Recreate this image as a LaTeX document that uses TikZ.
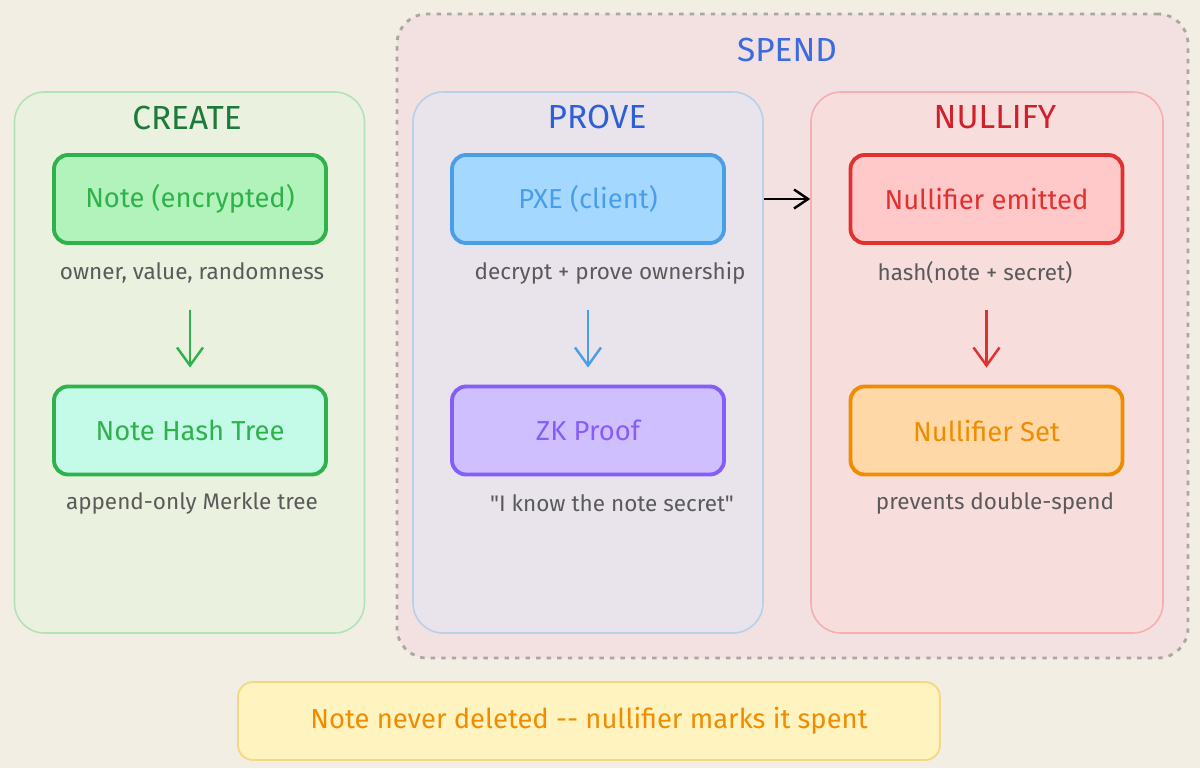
\documentclass[tikz,border=0pt]{standalone}
\usepackage{fontspec}
\setmainfont{Fira Sans}
\newfontfamily\plainfont{Fira Sans}
\usepackage{xcolor}
\usetikzlibrary{arrows.meta}
\definecolor{paperBeige}{RGB}{242,238,227}
\definecolor{spendPink}{RGB}{242,225,224}
\definecolor{spendGray}{RGB}{172,166,162}
\definecolor{spendBlue}{RGB}{58,107,224}
\definecolor{createFill}{RGB}{234,241,223}
\definecolor{createLine}{RGB}{178,226,186}
\definecolor{createTitle}{RGB}{30,122,58}
\definecolor{proveFill}{RGB}{233,228,236}
\definecolor{proveLine}{RGB}{184,208,234}
\definecolor{proveTitle}{RGB}{47,95,216}
\definecolor{nullifyFill}{RGB}{248,221,221}
\definecolor{nullifyLine}{RGB}{244,176,176}
\definecolor{nullifyTitle}{RGB}{208,32,42}
\definecolor{noteGreen}{RGB}{47,178,76}
\definecolor{noteFill}{RGB}{178,242,187}
\definecolor{treeFill}{RGB}{195,250,232}
\definecolor{pxeBlue}{RGB}{74,158,232}
\definecolor{pxeFill}{RGB}{165,216,255}
\definecolor{zkPurple}{RGB}{132,94,247}
\definecolor{zkFill}{RGB}{208,191,255}
\definecolor{nullRed}{RGB}{224,49,49}
\definecolor{nullFill}{RGB}{255,201,201}
\definecolor{setOrange}{RGB}{240,140,0}
\definecolor{setFill}{RGB}{255,216,168}
\definecolor{footFill}{RGB}{255,243,191}
\definecolor{footLine}{RGB}{245,215,130}
\definecolor{textGray}{RGB}{90,90,90}

\begin{document}
\begin{tikzpicture}
            \tikzstyle{group} = [rounded corners=0.6cm, line width=0.9pt, minimum width=7cm, minimum height=10.82cm]
            \tikzstyle{box} = [rounded corners=0.28cm, line width=2.2pt, minimum width=5.44cm, minimum height=1.76cm, font=\fontsize{15.6}{18}\selectfont]
            \tikzstyle{title} = [font=\fontsize{19}{22}\selectfont]
            \tikzstyle{caption} = [font=\fontsize{12.8}{15}\selectfont, textGray]
            \tikzstyle{arrow} = [-{Straight Barb[length=3.6mm,width=5.2mm]}, line width=1.4pt]

            \fill[paperBeige] (0,0) rectangle (24,-15.36);
            \useasboundingbox (0,0) rectangle (24,-15.36);

            % Spend area
            \node[draw=spendGray, fill=spendPink, line width=1.6pt, dash pattern=on 2.5pt off 3.5pt, rounded corners=0.6cm, minimum width=15.82cm, minimum height=12.88cm] (spend) at (15.85,-6.72) {};
            \node[title, spendBlue] (spendT) at (15.74,-1.0) {SPEND};

            % Create
            \node[group, draw=createLine, fill=createFill] (create) at (3.79,-7.25) {};
            \node[title, createTitle] (createT) at (3.74,-2.36) {CREATE};
            \node[box, draw=noteGreen, fill=noteFill, text=noteGreen] (c1) at (3.8,-3.98) {Note (encrypted)};
            \node[caption] (c1cap) at (3.84,-5.46) {owner, value, randomness};
            \node[box, draw=noteGreen, fill=treeFill, text=noteGreen] (c2) at (3.8,-8.61) {Note Hash Tree};
            \node[caption] (c2cap) at (3.84,-10.06) {append-only Merkle tree};
            \draw[arrow, noteGreen] ([yshift=-0.4cm]c1cap.south -| c1) -- ([yshift=0.34cm]c2.north);

            % Prove
            \node[group, draw=proveLine, fill=proveFill] (prove) at (11.76,-7.25) {};
            \node[title, proveTitle] (proveT) at (11.94,-2.34) {PROVE};
            \node[box, draw=pxeBlue, fill=pxeFill, text=pxeBlue] (p1) at (11.76,-3.98) {PXE (client)};
            \node[caption] (p1cap) at (12.2,-5.46) {decrypt + prove ownership};
            \node[box, draw=zkPurple, fill=zkFill, text=zkPurple] (p2) at (11.76,-8.61) {ZK Proof};
            \node[caption] (p2cap) at (12.24,-10.06) {\plainfont "I know the note secret"};
            \draw[arrow, pxeBlue] ([yshift=-0.4cm]p1cap.south -| p1) -- ([yshift=0.34cm]p2.north);

            % Nullify
            \node[group, draw=nullifyLine, fill=nullifyFill, minimum width=7.04cm] (nullify) at (19.74,-7.25) {};
            \node[title, nullifyTitle] (nullifyT) at (19.9,-2.34) {NULLIFY};
            \node[box, draw=nullRed, fill=nullFill, text=nullRed] (n1) at (19.73,-3.98) {Nullifier emitted};
            \node[caption] (n1cap) at (19.5,-5.46) {hash(note + secret)};
            \node[box, draw=setOrange, fill=setFill, text=setOrange] (n2) at (19.73,-8.61) {Nullifier Set};
            \node[caption] (n2cap) at (19.9,-10.06) {prevents double-spend};
            \draw[arrow, nullRed] ([yshift=-0.4cm]n1cap.south -| n1) -- ([yshift=0.34cm]n2.north);

            \draw[-{Straight Barb[length=2.8mm,width=3.8mm]}, line width=1.4pt, black] (prove.east |- p1.east) -- (nullify.west |- p1.east);

            % Footer
            \node[draw=footLine, fill=footFill, line width=1pt, rounded corners=0.3cm, minimum width=14.04cm, minimum height=1.56cm, text=setOrange, font=\fontsize{15.6}{18}\selectfont] (foot) at (11.78,-14.42) {Note never deleted -{}- nullifier marks it spent};
        \end{tikzpicture}
\end{document}
